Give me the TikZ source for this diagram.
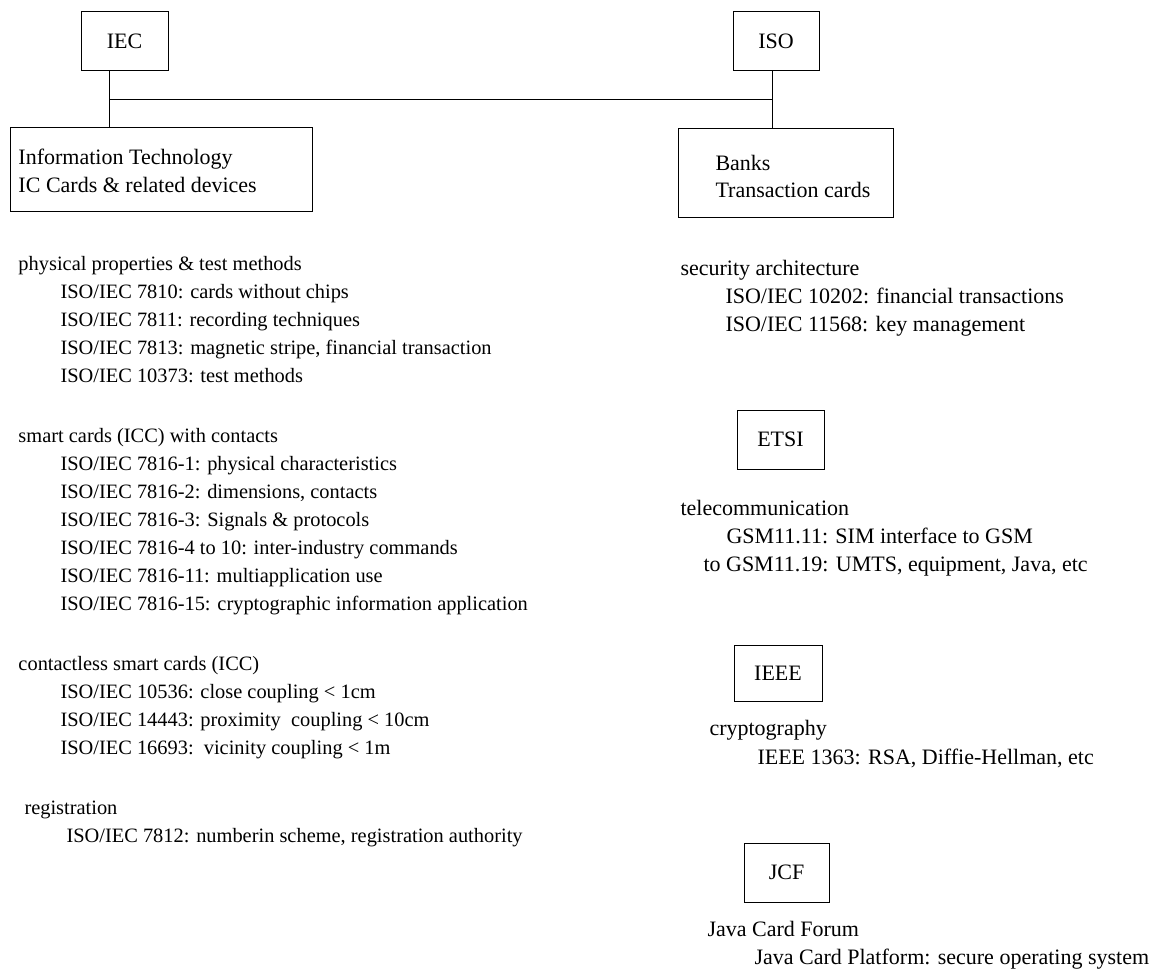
\documentclass[tikz,border=0pt]{standalone}
\usepackage{fontspec}
\setmainfont{Liberation Serif}
\begin{document}
\begin{tikzpicture}[x=0.75pt,y=-0.75pt,line width=0.75pt,
  org/.style={draw,inner sep=0pt,minimum width=65.25pt,minimum height=44.25pt,font=\fontsize{16.5}{20}\selectfont},
  std/.style={anchor=base west,inner sep=0pt,font=\fontsize{15.3}{19}\selectfont},
  rstd/.style={std,font=\fontsize{16.5}{20}\selectfont}]
\useasboundingbox (0,0) rectangle (1166,974);
% organisations
\node[org] (iec) at (124.5,41.5) {IEC};
\node[org,minimum width=64.5pt] (iso) at (776,41.5) {ISO};
\node[org,minimum width=226.5pt,minimum height=63pt] (itbox) at (161,169) {};
\node[org,minimum width=161.25pt,minimum height=66.75pt] (bank) at (785.5,172.5) {};
\node[org] (etsi) at (780.5,439.5) {ETSI};
\node[org,minimum width=66pt,minimum height=42pt] (ieee) at (778,673) {IEEE};
\node[org,minimum width=63.75pt] (jcf) at (786.5,872.5) {JCF};
\node[rstd] (it1) at (18,164) {Information Technology};
\node[rstd] (it2) at (18,192) {IC Cards \& related devices};
\node[rstd] (bk1) at (715,170) {Banks};
\node[rstd] (bk2) at (715,197) {Transaction cards};
% tree
\coordinate (jl) at (109,99);
\coordinate (jr) at (772,99);
\draw (iec.south -| jl) -- (jl |- itbox.north);
\draw (jl) -- (jr);
\draw (iso.south -| jr) -- (jr |- bank.north);
% IEC / ISO standards
\foreach \x/\y/\t [count=\i] in {18/270/{physical properties \& test methods},
  60/298/{ISO/IEC 7810: cards without chips},60/326/{ISO/IEC 7811: recording techniques},
  60/354/{ISO/IEC 7813: magnetic stripe, financial transaction},60/382/{ISO/IEC 10373: test methods},
  18/442/{smart cards (ICC) with contacts},
  60/470/{ISO/IEC 7816-1: physical characteristics},60/498/{ISO/IEC 7816-2: dimensions, contacts},
  60/526/{ISO/IEC 7816-3: Signals \& protocols},60/554/{ISO/IEC 7816-4 to 10: inter-industry commands},
  60/582/{ISO/IEC 7816-11: multiapplication use},60/610/{ISO/IEC 7816-15: cryptographic information application},
  18/670/{contactless smart cards (ICC)},
  60/698/{ISO/IEC 10536: close coupling < 1cm},60/726/{ISO/IEC 14443: proximity\ \ coupling < 10cm},
  60/754/{ISO/IEC 16693:\ \ vicinity coupling < 1m},
  24/814/{registration},66/842/{ISO/IEC 7812: numberin scheme, registration authority}}
  \node[std] (l\i) at (\x,\y) {\t};
% other bodies
\foreach \x/\y/\t [count=\i] in {680/275/{security architecture},
  725/303/{ISO/IEC 10202: financial transactions},725/331/{ISO/IEC 11568: key management},
  680/515/{telecommunication},726/543/{GSM11.11: SIM interface to GSM},
  703/571/{to GSM11.19: UMTS, equipment, Java, etc},
  709/735/{cryptography},757/764/{IEEE 1363: RSA, Diffie-Hellman, etc},
  707/936/{Java Card Forum},754/964/{Java Card Platform: secure operating system}}
  \node[rstd] (r\i) at (\x,\y) {\t};
\end{tikzpicture}
\end{document}
